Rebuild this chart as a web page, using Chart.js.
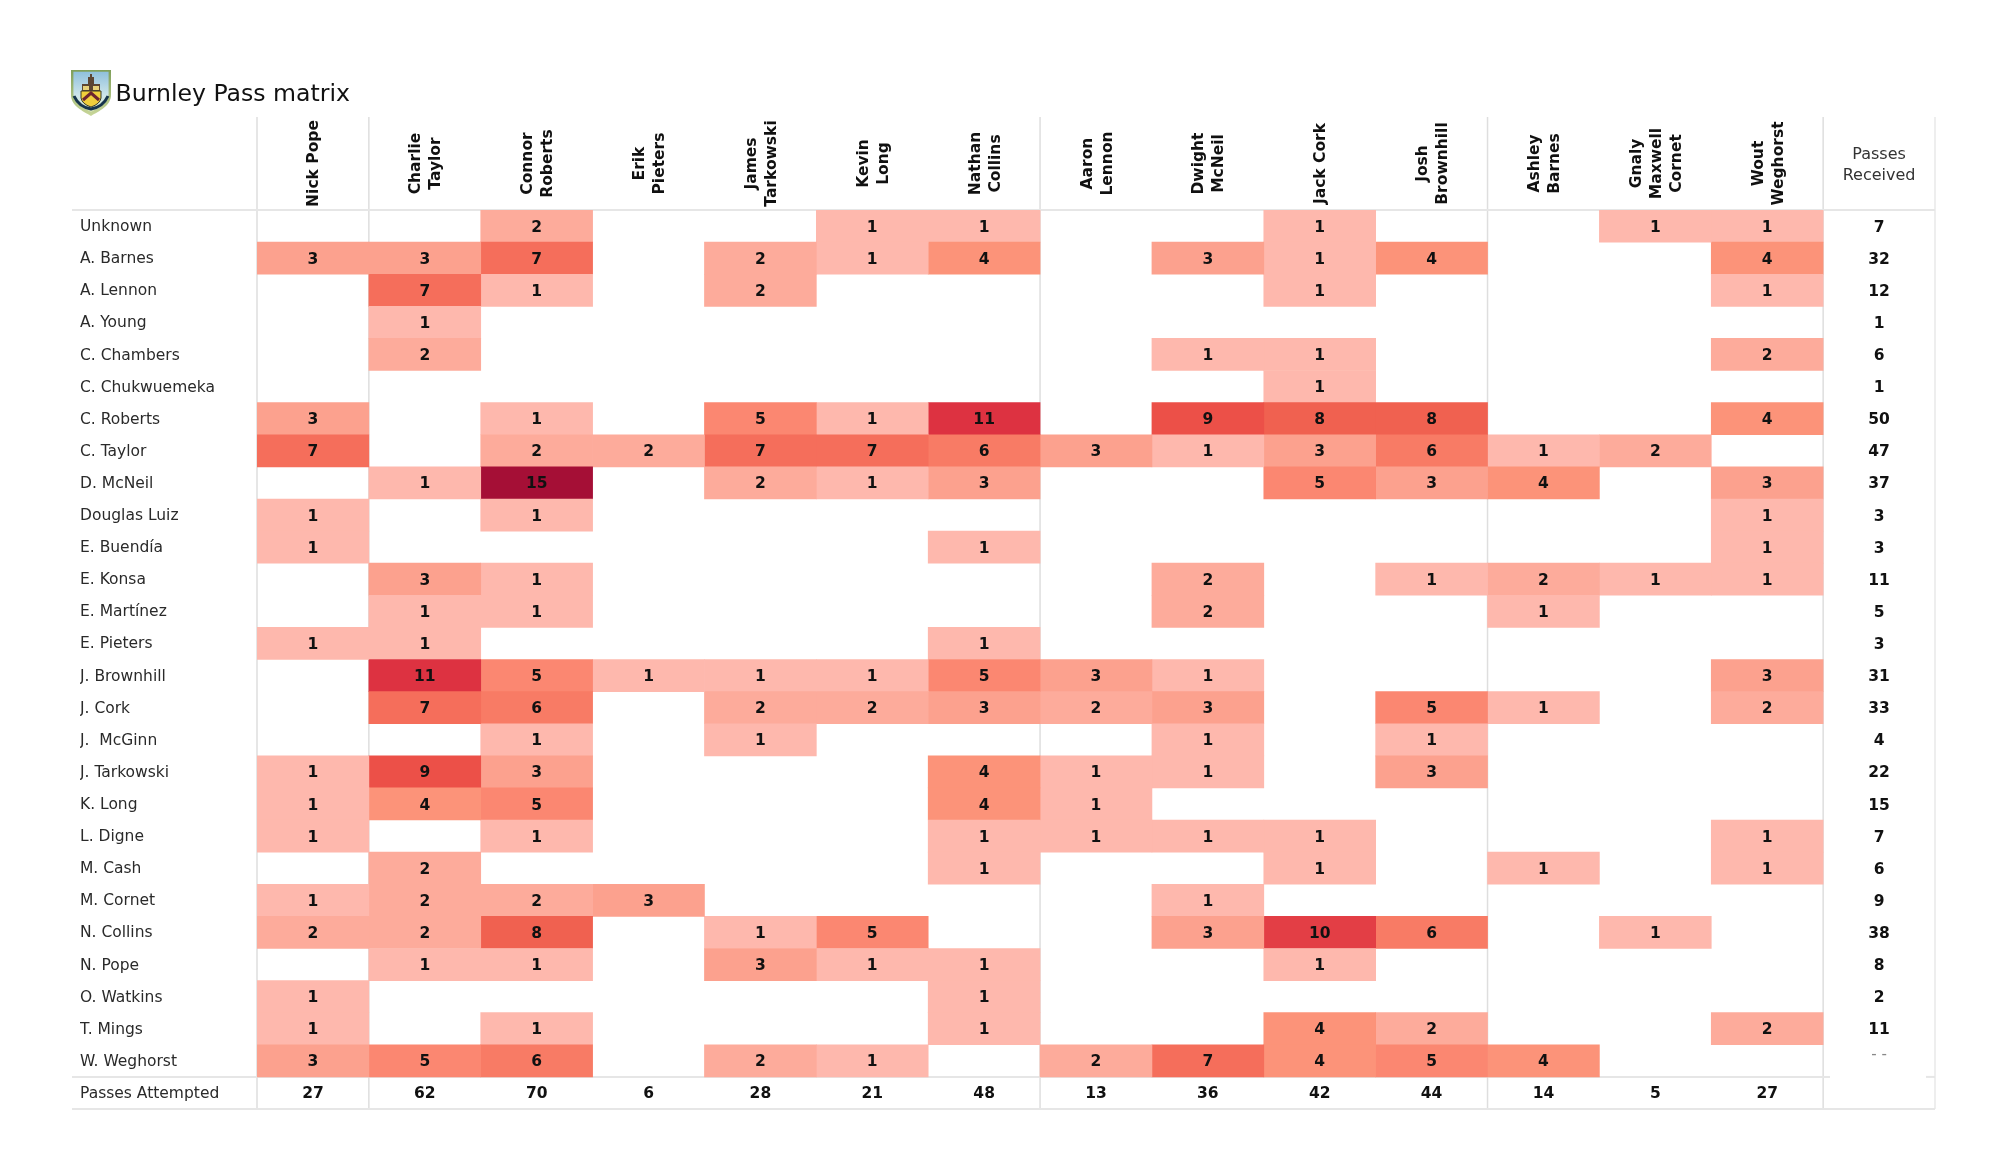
<!DOCTYPE html>
<html>
<head>
<meta charset="utf-8">
<title>Burnley Pass matrix</title>
<style>
  html, body { margin: 0; padding: 0; background: #fff; }
  canvas { display: block; }
</style>
<script src="https://cdn.jsdelivr.net/npm/chart.js@4/dist/chart.umd.js"></script>
</head>
<body>
<canvas id="matrix" width="2000" height="1175"></canvas>
<script>
// Receivers (rows) and passers (columns) of the pass matrix
const rowNames = [
  "Unknown", "A. Barnes", "A. Lennon", "A. Young", "C. Chambers", "C. Chukwuemeka",
  "C. Roberts", "C. Taylor", "D. McNeil", "Douglas Luiz", "E. Buendía", "E. Konsa",
  "E. Martínez", "E. Pieters", "J. Brownhill", "J. Cork", "J.  McGinn", "J. Tarkowski",
  "K. Long", "L. Digne", "M. Cash", "M. Cornet", "N. Collins", "N. Pope",
  "O. Watkins", "T. Mings", "W. Weghorst"
]
const columnNames = [
  ["Nick Pope"], ["Charlie", "Taylor"], ["Connor", "Roberts"], ["Erik", "Pieters"],
  ["James", "Tarkowski"], ["Kevin", "Long"], ["Nathan", "Collins"], ["Aaron", "Lennon"],
  ["Dwight", "McNeil"], ["Jack Cork"], ["Josh", "Brownhill"], ["Ashley", "Barnes"],
  ["Gnaly", "Maxwell", "Cornet"], ["Wout", "Weghorst"]
]
const footerName = "Passes Attempted"
const receivedHeader = ["Passes", "Received"]

// one line per row, 0 = empty cell
const passes = [
  [0, 0, 2, 0, 0, 1, 1, 0, 0, 1, 0, 0, 1, 1],
  [3, 3, 7, 0, 2, 1, 4, 0, 3, 1, 4, 0, 0, 4],
  [0, 7, 1, 0, 2, 0, 0, 0, 0, 1, 0, 0, 0, 1],
  [0, 1, 0, 0, 0, 0, 0, 0, 0, 0, 0, 0, 0, 0],
  [0, 2, 0, 0, 0, 0, 0, 0, 1, 1, 0, 0, 0, 2],
  [0, 0, 0, 0, 0, 0, 0, 0, 0, 1, 0, 0, 0, 0],
  [3, 0, 1, 0, 5, 1, 11, 0, 9, 8, 8, 0, 0, 4],
  [7, 0, 2, 2, 7, 7, 6, 3, 1, 3, 6, 1, 2, 0],
  [0, 1, 15, 0, 2, 1, 3, 0, 0, 5, 3, 4, 0, 3],
  [1, 0, 1, 0, 0, 0, 0, 0, 0, 0, 0, 0, 0, 1],
  [1, 0, 0, 0, 0, 0, 1, 0, 0, 0, 0, 0, 0, 1],
  [0, 3, 1, 0, 0, 0, 0, 0, 2, 0, 1, 2, 1, 1],
  [0, 1, 1, 0, 0, 0, 0, 0, 2, 0, 0, 1, 0, 0],
  [1, 1, 0, 0, 0, 0, 1, 0, 0, 0, 0, 0, 0, 0],
  [0, 11, 5, 1, 1, 1, 5, 3, 1, 0, 0, 0, 0, 3],
  [0, 7, 6, 0, 2, 2, 3, 2, 3, 0, 5, 1, 0, 2],
  [0, 0, 1, 0, 1, 0, 0, 0, 1, 0, 1, 0, 0, 0],
  [1, 9, 3, 0, 0, 0, 4, 1, 1, 0, 3, 0, 0, 0],
  [1, 4, 5, 0, 0, 0, 4, 1, 0, 0, 0, 0, 0, 0],
  [1, 0, 1, 0, 0, 0, 1, 1, 1, 1, 0, 0, 0, 1],
  [0, 2, 0, 0, 0, 0, 1, 0, 0, 1, 0, 1, 0, 1],
  [1, 2, 2, 3, 0, 0, 0, 0, 1, 0, 0, 0, 0, 0],
  [2, 2, 8, 0, 1, 5, 0, 0, 3, 10, 6, 0, 1, 0],
  [0, 1, 1, 0, 3, 1, 1, 0, 0, 1, 0, 0, 0, 0],
  [1, 0, 0, 0, 0, 0, 1, 0, 0, 0, 0, 0, 0, 0],
  [1, 0, 1, 0, 0, 0, 1, 0, 0, 4, 2, 0, 0, 2],
  [3, 5, 6, 0, 2, 1, 0, 2, 7, 4, 5, 4, 0, 0]
]
const passesReceived = [7, 32, 12, 1, 6, 1, 50, 47, 37, 3, 3, 11, 5, 3, 31, 33, 4, 22, 15, 7, 6, 9, 38, 8, 2, 11, "- -"]
const passesAttempted = [27, 62, 70, 6, 28, 21, 48, 13, 36, 42, 44, 14, 5, 27]

// cell colour by number of passes
const heatColors = {
  1: "#feb8ad", 2: "#fdab9b", 3: "#fca18e", 4: "#fc9379", 5: "#fb8771", 6: "#f87b65",
  7: "#f56e5b", 8: "#f06150", 9: "#ec5048", 10: "#e33e45", 11: "#dd3241", 15: "#a50f36"
}

// columns after which a vertical rule is drawn
const ruledColumns = [0, 1, 7, 11, 14, 15]

const FONT = "'DejaVu Sans'"
const allRows = [...rowNames, footerName]

const datasets = columnNames.map((name, col) => ({
  label: name.join(" "),
  data: allRows.map((_, row) => (passes[row] && passes[row][col] ? [col, col + 1] : null)),
  backgroundColor: allRows.map((_, row) => (passes[row] ? heatColors[passes[row][col]] : null)),
  borderWidth: 0,
  barPercentage: 1,
  categoryPercentage: 1,
  grouped: false
}))

// Burnley crest, hand drawn
function drawCrest(ctx) {
  ctx.save()
  ctx.translate(71, 70)
  const shield = () => {
    ctx.beginPath()
    ctx.moveTo(0, 0)
    ctx.lineTo(40, 0)
    ctx.lineTo(40, 25)
    ctx.bezierCurveTo(40, 36, 28, 41, 20, 46)
    ctx.bezierCurveTo(12, 41, 0, 36, 0, 25)
    ctx.closePath()
  }
  shield()
  const rim = ctx.createLinearGradient(0, 0, 0, 46)
  rim.addColorStop(0, "#7f9f5a")
  rim.addColorStop(1, "#c9d79a")
  ctx.fillStyle = rim
  ctx.fill()
  ctx.save()
  ctx.translate(20, 21)
  ctx.scale(0.88, 0.88)
  ctx.translate(-20, -22)
  shield()
  const sky = ctx.createLinearGradient(0, 0, 0, 46)
  sky.addColorStop(0, "#8fc0dc")
  sky.addColorStop(0.6, "#cfe6ea")
  sky.addColorStop(1, "#d8e6b8")
  ctx.fillStyle = sky
  ctx.fill()
  ctx.restore()
  // castle top
  ctx.fillStyle = "#5c4634"
  ctx.fillRect(11, 14, 18, 7)
  ctx.fillRect(17, 7, 6, 8)
  ctx.fillRect(19, 4, 2, 4)
  ctx.fillStyle = "#e8d27a"
  ctx.fillRect(12, 16, 6, 4)
  ctx.fillRect(22, 16, 6, 4)
  // yellow shield and chevron
  ctx.beginPath()
  ctx.moveTo(10, 21)
  ctx.lineTo(30, 21)
  ctx.lineTo(30, 28)
  ctx.quadraticCurveTo(29, 34, 20, 37)
  ctx.quadraticCurveTo(11, 34, 10, 28)
  ctx.closePath()
  ctx.fillStyle = "#f0cf3c"
  ctx.fill()
  ctx.strokeStyle = "#3a3a28"
  ctx.lineWidth = 1
  ctx.stroke()
  ctx.beginPath()
  ctx.moveTo(12, 30)
  ctx.lineTo(20, 23)
  ctx.lineTo(28, 30)
  ctx.strokeStyle = "#6d2430"
  ctx.lineWidth = 3
  ctx.stroke()
  // ribbon
  ctx.beginPath()
  ctx.moveTo(3, 26)
  ctx.quadraticCurveTo(8, 37, 20, 39)
  ctx.quadraticCurveTo(32, 37, 37, 26)
  ctx.strokeStyle = "#16344c"
  ctx.lineWidth = 3
  ctx.stroke()
  ctx.restore()
}

const matrixText = {
  id: "matrixText",
  beforeDatasetsDraw(chart) {
    const { ctx, chartArea, scales: { x, y } } = chart
    const rowH = y.getPixelForValue(1) - y.getPixelForValue(0)
    const footerTop = y.getPixelForValue(rowNames.length) - rowH / 2
    const headTop = 117
    ctx.save()
    ruledColumns.forEach(col => {
      ctx.beginPath()
      ctx.moveTo(x.getPixelForValue(col), headTop)
      ctx.lineTo(x.getPixelForValue(col), chartArea.bottom)
      ctx.strokeStyle = col === 15 ? "#e8e8e8" : "#dedede"
      ctx.lineWidth = 1.5
      ctx.stroke()
    })
    const hLine = (y0, x0, x1) => {
      ctx.beginPath()
      ctx.moveTo(x0, y0)
      ctx.lineTo(x1, y0)
      ctx.strokeStyle = "#e6e6e6"
      ctx.lineWidth = 2
      ctx.stroke()
    }
    hLine(chartArea.top, 72, chartArea.right)
    hLine(footerTop, 72, 1830)
    hLine(footerTop, 1926, chartArea.right)
    hLine(chartArea.bottom, 72, chartArea.right)
    ctx.restore()
  },
  afterDatasetsDraw(chart) {
    const { ctx, scales: { x, y } } = chart
    const midX = col => x.getPixelForValue(col + 0.5)
    ctx.save()
    ctx.textAlign = "center"
    ctx.textBaseline = "middle"
    ctx.fillStyle = "#111"

    // cell numbers
    ctx.font = `bold 15.5px ${FONT}`
    passes.forEach((row, r) => {
      row.forEach((v, c) => {
        if (v) ctx.fillText(v, midX(c), y.getPixelForValue(r) + 1.5)
      })
    })
    // totals
    passesAttempted.forEach((v, c) => ctx.fillText(v, midX(c), y.getPixelForValue(rowNames.length) + 1.5))
    passesReceived.forEach((v, r) => {
      if (typeof v === "number") ctx.fillText(v, midX(14), y.getPixelForValue(r) + 1.5)
    })
    ctx.fillStyle = "#888"
    ctx.font = `15px ${FONT}`
    ctx.fillText(passesReceived[passesReceived.length - 1], midX(14), 1055)

    // rotated player headers
    ctx.fillStyle = "#111"
    ctx.font = `bold 15.5px ${FONT}`
    columnNames.forEach((lines, c) => {
      ctx.save()
      ctx.translate(midX(c) + 1.5, 163.5)
      ctx.rotate(-Math.PI / 2)
      lines.forEach((line, i) => {
        ctx.fillText(line, 0, (i - (lines.length - 1) / 2) * 20)
      })
      ctx.restore()
    })

    // passes received header
    ctx.fillStyle = "#333"
    ctx.font = `16px ${FONT}`
    receivedHeader.forEach((line, i) => ctx.fillText(line, midX(14), 155 + i * 21))

    // title
    ctx.fillStyle = "#111"
    ctx.textAlign = "left"
    ctx.font = `23.6px ${FONT}`
    ctx.fillText("Burnley Pass matrix", 115.5, 95)
    ctx.restore()

    drawCrest(ctx)
  }
}

new Chart(document.getElementById("matrix"), {
  type: "bar",
  data: { labels: allRows, datasets },
  options: {
    indexAxis: "y",
    responsive: false,
    animation: false,
    layout: { padding: { left: 80, right: 65, top: 210, bottom: 66 } },
    plugins: { legend: { display: false }, tooltip: { enabled: false } },
    scales: {
      x: { type: "linear", min: 0, max: 15, display: false },
      y: {
        type: "category",
        afterFit(scale) { scale.width = 177 },
        grid: { display: false },
        border: { display: false },
        ticks: {
          autoSkip: false,
          crossAlign: "far",
          padding: 0,
          labelOffset: 1,
          color: "#2a2a2a",
          font: { family: FONT, size: 15.5 }
        }
      }
    }
  },
  plugins: [matrixText]
})
</script>
</body>
</html>
